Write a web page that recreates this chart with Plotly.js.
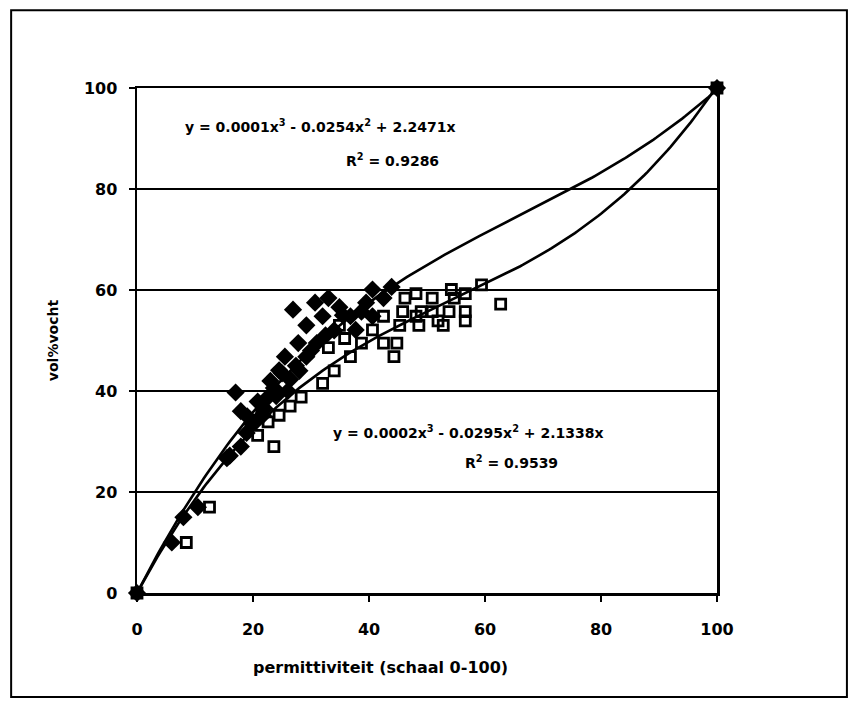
<!DOCTYPE html>
<html>
<head>
<meta charset="utf-8">
<script src="https://cdn.plot.ly/plotly-3.0.1.min.js"></script>
<style>
html,body{margin:0;padding:0;background:#fff;}
#chart{width:858px;height:708px;}
</style>
</head>
<body>
<div id="chart"></div>
<script>
// Series 1: filled diamonds
const diamondX = [0, 6, 8, 10.5, 15.5, 16, 17.9, 18.9, 19.8, 17, 17.9, 20.8, 21.7, 22.6, 23.6, 24.5, 25.5, 26.4, 27.4, 27.8, 26.9, 29.2, 29.2, 31, 30.7, 32, 33, 34, 34.9, 36.8, 37.7, 38.7, 40.6, 40.6, 42.5, 43.9, 19, 20.5, 22, 23, 24, 25, 26, 28, 30, 32.5, 35.5, 39.5, 100];
const diamondY = [0, 10, 15, 17, 26.7, 27.2, 29, 31.7, 33.5, 39.7, 36, 37.9, 35.2, 38.8, 40.6, 44.1, 46.8, 42.3, 45, 49.5, 56.1, 53, 46.8, 49.5, 57.5, 54.8, 58.4, 52, 56.6, 54.8, 52.1, 55.7, 60.1, 54.8, 58.4, 60.6, 35, 34, 36.5, 42, 39, 43.5, 40, 44, 48, 51, 55, 57.5, 100];
// Series 2: open squares
const squareX = [0, 8.5, 12.5, 20.8, 23.6, 21.5, 22.6, 24.5, 26.4, 28.3, 32, 34, 33, 35.8, 36.8, 38.7, 34.9, 40.6, 42.5, 42.5, 44.3, 44.8, 45.3, 45.8, 46.2, 48.1, 48.1, 48.6, 49, 50.9, 50.9, 51.9, 52.8, 53.8, 54.2, 54.7, 56.6, 56.6, 56.6, 59.4, 62.7, 100];
const squareY = [0, 10, 17, 31.2, 29, 36.5, 33.9, 35.2, 37, 38.8, 41.5, 44, 48.6, 50.4, 46.8, 49.5, 53, 52.1, 49.5, 54.8, 46.8, 49.5, 53, 55.7, 58.4, 59.3, 54.8, 53, 55.7, 55.7, 58.4, 53.9, 53, 55.7, 60.1, 58.4, 59.3, 55.7, 53.9, 61, 57.2, 100];
// Polynomial trendlines (order 3, intercept 0): [a3, a2, a1]
const trend1Coefs = [0.000129, -0.0254, 2.2471];
const trend2Coefs = [0.000182, -0.0295, 2.1338];
const trend1Label = ["y = 0.0001x<sup>3</sup> - 0.0254x<sup>2</sup> + 2.2471x", "R<sup>2</sup> = 0.9286"];
const trend2Label = ["y = 0.0002x<sup>3</sup> - 0.0295x<sup>2</sup> + 2.1338x", "R<sup>2</sup> = 0.9539"];
const xTicks = [0, 20, 40, 60, 80, 100];
const yTicks = [0, 20, 40, 60, 80, 100];
const xTitle = 'permittiviteit (schaal 0-100)';
const yTitle = 'vol%vocht';

function curve(c){
  const xs=[], ys=[];
  for(let i=0;i<=200;i++){const x=i*0.5; xs.push(x); ys.push(c[0]*x*x*x + c[1]*x*x + c[2]*x);}
  return {xs, ys};
}
const c1 = curve(trend1Coefs), c2 = curve(trend2Coefs);

const F = "'DejaVu Sans', Arial, sans-serif";
const traces = [
  {x:c1.xs, y:c1.ys, mode:'lines', line:{color:'#000', width:2.6}, hoverinfo:'skip', cliponaxis:false},
  {x:c2.xs, y:c2.ys, mode:'lines', line:{color:'#000', width:2.6}, hoverinfo:'skip', cliponaxis:false},
  {x:diamondX, y:diamondY, mode:'markers', marker:{symbol:'diamond', size:14, color:'#000'}, cliponaxis:false},
  {x:squareX, y:squareY, mode:'markers', marker:{symbol:'square-open', size:10, color:'#000', line:{width:2.8, color:'#000'}}, cliponaxis:false}
];

const ann = (x,y,t)=>({x:x,y:y,xref:'x',yref:'y',text:t,showarrow:false,font:{family:F,size:14,color:'#000',weight:'bold'}});
const layout = {
  width:858, height:708,
  margin:{l:137, r:141, t:88, b:115},
  paper_bgcolor:'#fff', plot_bgcolor:'#fff',
  showlegend:false,
  font:{family:F, color:'#000'},
  xaxis:{range:[0,100], tickvals:xTicks, ticktext:xTicks.map(String), showgrid:false, zeroline:false,
    showline:true, linecolor:'#000', linewidth:2.5, mirror:true, ticks:'outside', ticklen:6, tickwidth:2, tickcolor:'#000',
    ticklabelstandoff:14,
    tickfont:{family:F, size:16, weight:'bold'}},
  yaxis:{range:[0,100], tickvals:yTicks, ticktext:yTicks.map(String), showgrid:true, gridcolor:'#000', gridwidth:2.5, zeroline:false,
    showline:true, linecolor:'#000', linewidth:2.5, mirror:true, ticks:'outside', ticklen:6, tickwidth:2, tickcolor:'#000',
    ticklabelstandoff:8,
    tickfont:{family:F, size:16, weight:'bold'},
    title:{text:yTitle, font:{family:F, size:14, weight:'bold'}, standoff:22}},
  annotations:[
    ann(31.6, 92.4, trend1Label[0]), ann(44.0, 85.8, trend1Label[1]),
    ann(57.2, 31.8, trend2Label[0]), ann(64.5, 25.9, trend2Label[1]),
    {x:0.419, y:-0.148, xref:'paper', yref:'paper', xanchor:'center', yanchor:'middle', text:xTitle, showarrow:false, font:{family:F, size:16, color:'#000', weight:'bold'}}
  ],
  shapes:[{type:'rect', xref:'paper', yref:'paper', x0:-0.217, x1:1.224, y0:-0.206, y1:1.154, line:{color:'#000', width:2}}]
};
Plotly.newPlot('chart', traces, layout, {displayModeBar:false, staticPlot:true});
</script>
</body>
</html>
